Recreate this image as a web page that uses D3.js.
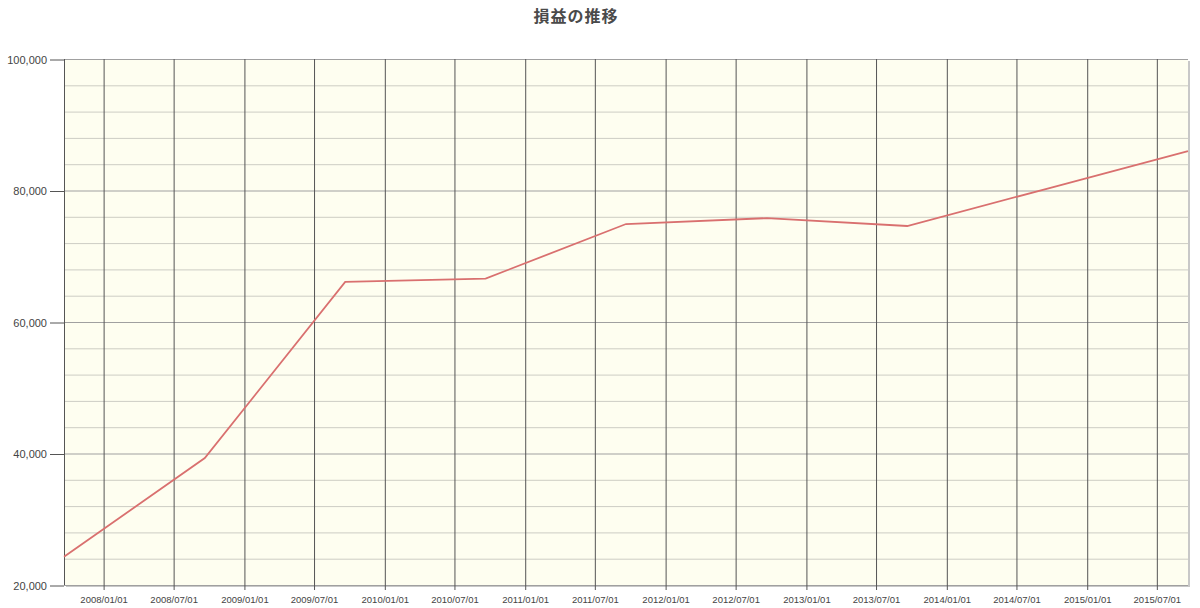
<!DOCTYPE html>
<html>
<head>
<meta charset="utf-8">
<script src="https://cdn.jsdelivr.net/npm/d3@7"></script>
<style>
  body { margin: 0; background: #fff; }
  text { font-family: "Liberation Sans", Arial, sans-serif; }
</style>
</head>
<body>
<div id="chart"></div>
<script>
// data (yearly points)
const dates = ["2007-09-20", "2008-09-20", "2009-09-20", "2010-09-20", "2011-09-20",
               "2012-09-20", "2013-09-20", "2014-09-20", "2015-09-20"];
const profit = [24300, 39300, 66100, 66600, 74900, 75800, 74600, 80300, 86000];
const xTicks = ["2008/01/01", "2008/07/01", "2009/01/01", "2009/07/01", "2010/01/01",
                "2010/07/01", "2011/01/01", "2011/07/01", "2012/01/01", "2012/07/01",
                "2013/01/01", "2013/07/01", "2014/01/01", "2014/07/01", "2015/01/01",
                "2015/07/01"];
const yTicks = [20000, 40000, 60000, 80000, 100000];
const title = "損益の推移";

const width = 1200
const height = 608
const margin = {top: 59, right: 12, bottom: 23, left: 64}

const parse = d3.timeParse("%Y-%m-%d")
const parseTick = d3.timeParse("%Y/%m/%d")
const data = dates.map((d, i) => ({date: parse(d), value: profit[i]}))

const svg = d3.select("#chart")
    .append("svg")
    .attr("width", width)
    .attr("height", height)

const x = d3.scaleTime()
    .domain(d3.extent(data, d => d.date))
    .range([margin.left, width - margin.right])

const y = d3.scaleLinear()
    .domain([20000, 100000])
    .range([height - margin.bottom, margin.top])

const pw = width - margin.right - margin.left
const ph = height - margin.bottom - margin.top

// shadow + background
svg.append("rect")
    .attr("x", margin.left + 2).attr("y", margin.top + 2)
    .attr("width", pw).attr("height", ph)
    .attr("fill", "#c8c8c8")
svg.append("rect")
    .attr("x", margin.left).attr("y", margin.top)
    .attr("width", pw).attr("height", ph)
    .attr("fill", "#fefef0")

// minor horizontal grid every 4,000
svg.append("g")
    .selectAll("line")
    .data(d3.range(20000, 100001, 4000))
    .join("line")
    .attr("x1", margin.left).attr("x2", width - margin.right)
    .attr("y1", d => y(d) + 0.5).attr("y2", d => y(d) + 0.5)
    .attr("stroke", d => d % 20000 === 0 ? "#a0a0a0" : "#cdcdc4")
    .attr("stroke-width", 1)

// vertical grid + x axis
const xAxis = d3.axisBottom(x)
    .tickValues(xTicks.map(parseTick))
    .tickFormat(d3.timeFormat("%Y/%m/%d"))
    .tickSize(-(ph + 5))
    .tickPadding(6)

svg.append("g")
    .attr("class", "x axis")
    .attr("transform", `translate(0, ${height - margin.bottom + 5})`)
    .call(xAxis)
    .call(g => g.select(".domain").remove())
    .call(g => g.selectAll(".tick line").attr("stroke", "#555"))
    .call(g => g.selectAll(".tick text")
        .attr("fill", "#444")
        .style("font-size", "9.5px"))

// y axis
const yAxis = d3.axisLeft(y)
    .tickValues(yTicks)
    .tickFormat(d3.format(","))
    .tickSize(14)
    .tickPadding(3)

svg.append("g")
    .attr("class", "y axis")
    .attr("transform", `translate(${margin.left}, 0.5)`)
    .call(yAxis)
    .call(g => g.select(".domain").remove())
    .call(g => g.selectAll(".tick line").attr("stroke", "#555"))
    .call(g => g.selectAll(".tick text")
        .attr("fill", "#444")
        .style("font-size", "11px"))

// left frame line
svg.append("line")
    .attr("x1", margin.left + 0.5).attr("x2", margin.left + 0.5)
    .attr("y1", margin.top).attr("y2", height - margin.bottom)
    .attr("stroke", "#555")

// the profit line
const line = d3.line()
    .x(d => x(d.date))
    .y(d => y(d.value))

svg.append("path")
    .datum(data)
    .attr("fill", "none")
    .attr("stroke", "#d9706f")
    .attr("stroke-width", 1.8)
    .attr("d", line)

// title
svg.append("text")
    .attr("x", 576)
    .attr("y", 22)
    .attr("text-anchor", "middle")
    .attr("fill", "#4a4a4a")
    .style("font-family", "'Noto Sans CJK JP', sans-serif")
    .style("font-weight", "bold")
    .style("font-size", "16px")
    .style("letter-spacing", "1px")
    .text(title)
</script>
</body>
</html>
